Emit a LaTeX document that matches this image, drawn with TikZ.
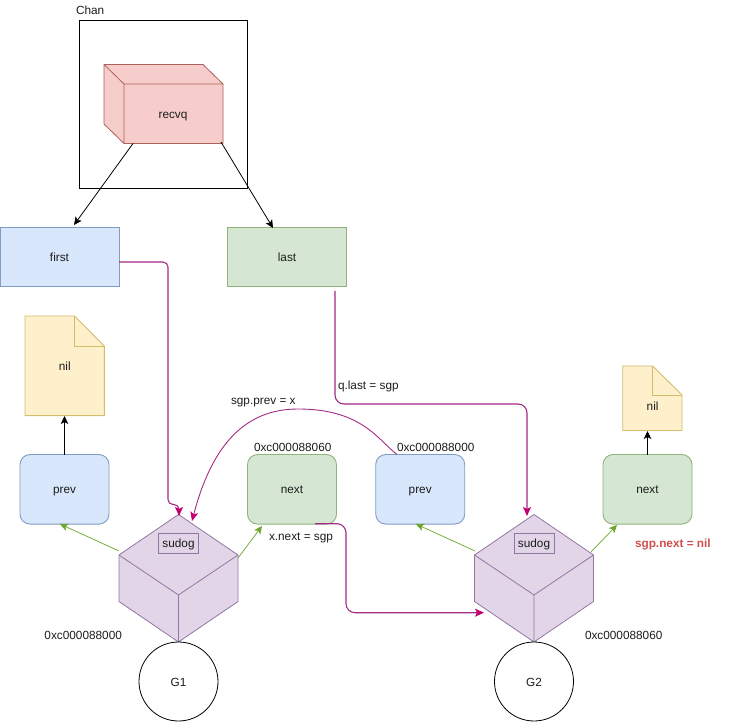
\documentclass[tikz,border=0pt]{standalone}
\usepackage{fontspec}
\setmainfont{Liberation Sans}
\usetikzlibrary{arrows.meta,calc}
\definecolor{bluefill}{HTML}{D8E7FB}\definecolor{blueline}{HTML}{7F9DC2}
\definecolor{greenfill}{HTML}{D5E7D3}\definecolor{greenline}{HTML}{8FB378}
\definecolor{redfill}{HTML}{F7CDCB}\definecolor{redline}{HTML}{AD5F5C}
\definecolor{yellowfill}{HTML}{FDF0CA}\definecolor{yellowline}{HTML}{D4BC6C}
\definecolor{purplefill}{HTML}{E1D5E7}\definecolor{purpleline}{HTML}{9277A3}
\definecolor{magline}{HTML}{A32A85}\definecolor{maghead}{HTML}{C4006F}
\definecolor{arrowgreen}{HTML}{6BA62A}\definecolor{inkred}{HTML}{CF4F50}
\definecolor{ink}{HTML}{1C1C1C}
\tikzset{
  x=1pt,y=-1pt,
  every node/.style={font=\fontsize{11.8}{14}\selectfont,text=ink,inner sep=0pt,outer sep=0pt,text height=11pt,text depth=2pt},
  flatbox/.style={draw=#1line,fill=#1fill,line width=0.9pt,minimum width=119pt,minimum height=59.5pt},
  softbox/.style={draw=#1line,fill=#1fill,line width=0.9pt,rounded corners=10pt,minimum width=89pt,minimum height=69.5pt},
  roundg/.style={circle,draw=black,line width=0.8pt,fill=white,minimum size=79pt},
  tagbox/.style={draw=purpleline,line width=0.8pt,minimum width=40pt,minimum height=20.5pt},
  lab/.style={anchor=base west},
  blackarrow/.style={draw=black,line width=0.8pt,-{Stealth[length=8pt,width=7.5pt,inset=2pt]}},
  magarrow/.style={draw=magline,line width=1.1pt,rounded corners=#1,-{Stealth[length=9pt,width=8pt,inset=2pt,color=maghead]}},
  greenarrow/.style={draw=arrowgreen,line width=0.7pt,-{Stealth[length=8pt,width=7.5pt,inset=2pt]}},
  cubeface/.style={draw=purpleline,fill=purplefill,line width=0.8pt,line join=round},
  docface/.style={draw=yellowline,fill=yellowfill,line width=0.9pt,line join=miter},
}
\newcommand{\cubeshape}[1]{%
  \draw[cubeface] (#1,514.5) -- (#1+59.5,555) -- (#1+59.5,601.5) -- (#1,642) -- (#1-59.5,601.5) -- (#1-59.5,555) -- cycle;
  \draw[cubeface,fill=none] (#1-59.5,555) -- (#1,595) -- (#1+59.5,555) (#1,595) -- (#1,642);
}
\newcommand{\docshape}[6]{%
  \draw[docface] (#1,#3) -- (#5,#3) -- (#2,#6) -- (#2,#4) -- (#1,#4) -- cycle;
  \draw[docface,fill=none] (#5,#3) -- (#5,#6) -- (#2,#6);
}
\begin{document}
\begin{tikzpicture}
\useasboundingbox (0,0) rectangle (732,722);
% Chan
\node[draw=black,line width=0.9pt,minimum width=168pt,minimum height=168pt] (chan) at (163.7,104) {};
\node[lab] (chanlab) at (76,14.5) {Chan};
% recvq cuboid
\draw[draw=redline,fill=redfill,line width=0.8pt,line join=round]
  (104,64.5) -- (203,64.5) -- (223,84) -- (223,143.5) -- (124,143.5) -- (104,124) -- cycle;
\draw[draw=redline,line width=0.8pt] (104,64.5) -- (124,84) -- (223,84) (124,84) -- (124,143.5);
\node (recvq) at (173,114.5) {recvq};
\coordinate (recvqL) at (133,143.5);
\coordinate (recvqR) at (221,142);
% first / last
\node[flatbox=blue] (first) at (59.5,257.2) {first};
\node[flatbox=green] (last) at (287,257.2) {last};
\coordinate (firstTip) at (74,225);
\coordinate (lastTip) at (273,228);
\draw[blackarrow] (recvqL) -- (firstTip);
\draw[blackarrow] (recvqR) -- (lastTip);
% nil documents
\docshape{25}{104.3}{316}{415.6}{74.5}{346}
\node (nilA) at (64.8,366) {nil};
\docshape{622.7}{682}{366}{430.5}{652.7}{395}
\node (nilB) at (652.6,406) {nil};
% soft boxes
\node[softbox=blue] (prevA) at (64.5,489.3) {prev};
\node[softbox=green] (nextA) at (292,489.3) {next};
\node[softbox=blue] (prevB) at (420.2,489.3) {prev};
\node[softbox=green] (nextB) at (647.5,489.3) {next};
\coordinate (nilAbot) at (64.5,416);
\coordinate (nilBbot) at (647.5,431);
\draw[blackarrow] (prevA.north) -- (nilAbot);
\draw[blackarrow] (nextB.north) -- (nilBbot);
% cubes
\cubeshape{178.5}
\cubeshape{534}
\node[tagbox] (sudogA) at (178.5,543.3) {sudog};
\node[tagbox] (sudogB) at (534,543.3) {sudog};
% goroutines
\node[roundg] (gA) at (178.5,681.5) {G1};
\node[roundg] (gB) at (534,681.5) {G2};
% green arrows
\coordinate (cubeAl) at (119,551); \coordinate (cubeAr) at (238,558);
\coordinate (cubeBl) at (475,551); \coordinate (cubeBr) at (591,552);
\coordinate (prevAtip) at (60,524); \coordinate (nextAtip) at (262,526);
\coordinate (prevBtip) at (416,524); \coordinate (nextBtip) at (617,525);
\draw[greenarrow] (cubeAl) -- (prevAtip);
\draw[greenarrow] (cubeAr) -- (nextAtip);
\draw[greenarrow] (cubeBl) -- (prevBtip);
\draw[greenarrow] (cubeBr) -- (nextBtip);
% magenta connectors
\coordinate (firstOut) at (119,262);
\coordinate (cubeAtip) at (179,516);
\draw[magarrow=5pt] (firstOut) -- (168,262) -- (168,504.5) -- (179,504.5) -- (cubeAtip);
\coordinate (lastOut) at (335,291);
\coordinate (cubeBtip) at (527,516);
\draw[magarrow=9pt] (lastOut) -- (335,404) -- (527,404) -- (cubeBtip);
\coordinate (nextAout) at (315,523.7);
\coordinate (cubeBin) at (484,612.7);
\draw[magarrow=9pt] (nextAout) -- (346,523.7) -- (346,612.7) -- (cubeBin);
\coordinate (prevBout) at (397,454.5);
\coordinate (cubeAin) at (192,521);
\draw[draw=magline,line width=0.9pt,-{Stealth[length=9pt,width=8pt,inset=2pt,color=maghead]}]
  (prevBout) .. controls (378,440) and (362,409) .. (298,409)
  .. controls (245,409) and (212,445) .. (cubeAin);
% labels
\node[lab] (lprev) at (231,405) {sgp.prev = x};
\node[lab] (lqlast) at (338,390) {q.last = sgp};
\node[lab] (laddrA) at (254,452) {0xc000088060};
\node[lab] (laddrB) at (397,451) {0xc000088000};
\node[lab] (lxnext) at (269,540) {x.next = sgp};
\node[lab,text=inkred,font=\fontsize{11.8}{14}\selectfont\bfseries] (lsgpnext) at (635,547) {sgp.next = nil};
\node[lab] (laddrC) at (44.5,639.5) {0xc000088000};
\node[lab] (laddrD) at (585,639.5) {0xc000088060};
\end{tikzpicture}
\end{document}
